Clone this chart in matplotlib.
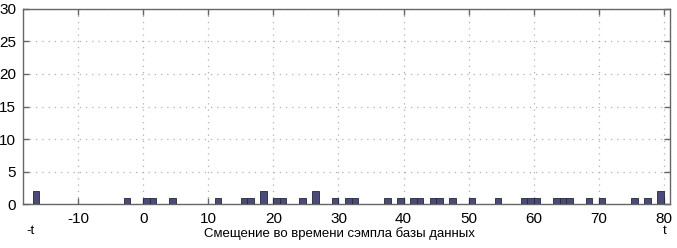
import matplotlib
matplotlib.use("Agg")
import matplotlib.pyplot as plt

# Data: lag (left edge of each bin) and count
lags = [-17, -3, 0, 1, 4, 11, 15, 16, 18, 20, 21, 24, 26, 29, 31, 32, 37, 39,
        41, 42, 44, 45, 47, 50, 54, 58, 59, 60, 63, 64, 65, 68, 70, 75, 77, 79]
counts = [2, 1, 1, 1, 1, 1, 1, 1, 2, 1, 1, 1, 2, 1, 1, 1, 1, 1,
          1, 1, 1, 1, 1, 1, 1, 1, 1, 1, 1, 1, 1, 1, 1, 1, 1, 2]
xticks = [-10, 0, 10, 20, 30, 40, 50, 60, 70, 80]
yticks = [0, 5, 10, 15, 20, 25, 30]
xlabel = "Смещение во времени сэмпла базы данных"

plt.rcParams['font.family'] = ['Liberation Sans', 'DejaVu Sans']
plt.rcParams['axes.unicode_minus'] = False

fig = plt.figure(figsize=(6.77, 2.48), dpi=100)
ax = fig.add_axes([0.034, 0.177, 0.956, 0.787])

ax.bar(lags, counts, width=1, align='edge', color='#4b4b7a',
       edgecolor='#26263a', linewidth=0.6, zorder=3)

ax.set_xlim(-18.5, 81.0)
ax.set_ylim(0, 30)
ax.set_xticks(xticks)
ax.set_yticks(yticks)
ax.grid(True, color='#b0b0b0', linestyle=(0, (1, 4)), linewidth=0.9)
ax.tick_params(direction='in', top=True, right=True, length=4, width=1,
               color='#666666', labelsize=11)
ax.tick_params(axis='x', pad=6)
ax.tick_params(axis='y', pad=5)
for s in ax.spines.values():
    s.set_color('#666666')
    s.set_linewidth(1.0)

fig.text(0.502, 0.058, xlabel, ha='center', va='center', fontsize=9.5)
fig.text(0.045, 0.068, "-t", ha='center', va='center', fontsize=9.5)
fig.text(0.982, 0.068, "t", ha='center', va='center', fontsize=9.5)

fig.savefig("out.png", dpi=100, facecolor='white')
